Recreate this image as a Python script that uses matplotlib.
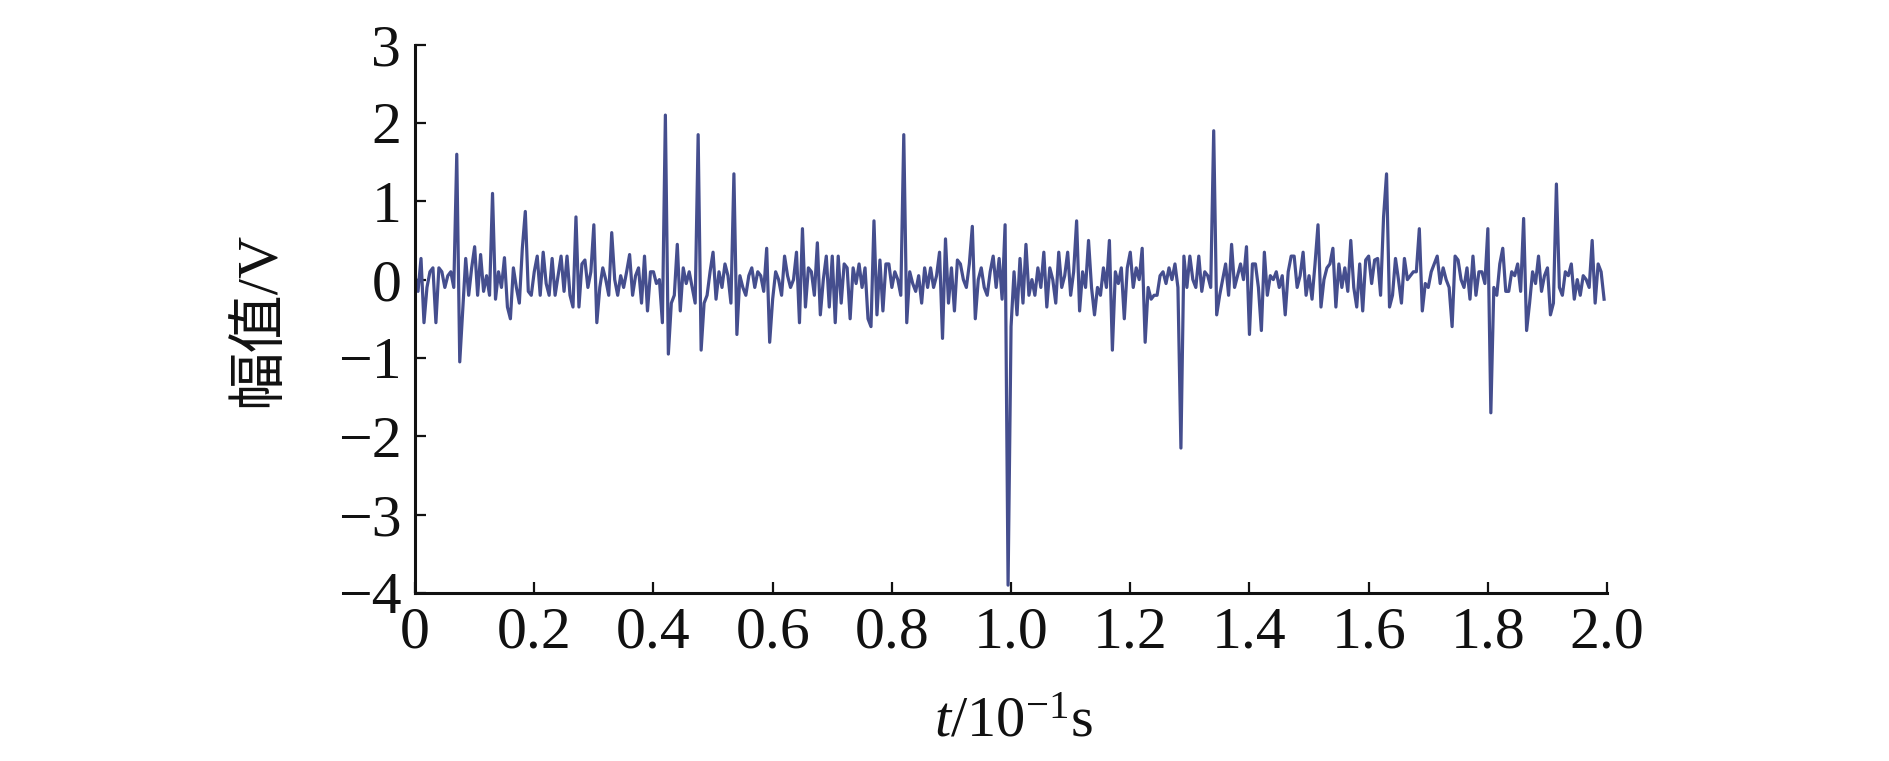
import numpy as np
import matplotlib
matplotlib.use('Agg')
import matplotlib.pyplot as plt

plt.rcParams['font.family'] = ['Liberation Serif', 'Noto Sans CJK SC']
plt.rcParams['mathtext.fontset'] = 'custom'
plt.rcParams['mathtext.rm'] = 'Liberation Serif'
plt.rcParams['mathtext.it'] = 'Liberation Serif:italic'

# 采样间隔 (10^-1 s)
dt = 0.005

# 幅值 (V), 每行 20 个采样点
amp = [
    0.05, -0.15, 0.27, -0.55, -0.1, 0.1, 0.15, -0.55, 0.15, 0.1, -0.1, 0.05, 0.1, -0.1, 1.6, -1.05, -0.4, 0.27, -0.2, 0.15,
    0.42, -0.2, 0.32, -0.15, 0.05, -0.2, 1.1, -0.25, 0.1, -0.1, 0.28, -0.35, -0.5, 0.15, -0.1, -0.3, 0.4, 0.87, -0.15, -0.2,
    0.1, 0.3, -0.2, 0.35, -0.05, -0.2, 0.27, -0.2, 0.05, 0.3, -0.15, 0.3, -0.2, -0.35, 0.8, -0.35, 0.2, 0.25, -0.1, 0.1,
    0.7, -0.55, -0.1, 0.15, 0.0, -0.2, 0.6, 0.0, -0.2, 0.05, -0.1, 0.1, 0.32, -0.2, 0.05, 0.15, -0.3, 0.3, -0.4, 0.1,
    0.1, -0.05, 0.0, -0.55, 2.1, -0.95, -0.3, -0.2, 0.45, -0.4, 0.15, -0.05, 0.1, -0.1, -0.3, 1.85, -0.9, -0.3, -0.2, 0.1,
    0.35, -0.25, 0.1, -0.1, 0.2, 0.05, -0.3, 1.35, -0.7, 0.05, -0.1, -0.2, 0.05, 0.15, -0.1, 0.1, 0.05, -0.15, 0.4, -0.8,
    -0.25, 0.1, 0.0, -0.2, 0.3, 0.05, -0.1, 0.0, 0.35, -0.55, 0.65, -0.35, 0.15, 0.1, -0.2, 0.47, -0.45, 0.0, 0.3, -0.35,
    0.3, -0.55, 0.3, -0.3, 0.2, 0.15, -0.5, 0.15, -0.05, 0.2, -0.1, 0.15, -0.5, -0.6, 0.75, -0.45, 0.25, -0.4, 0.2, 0.2,
    -0.1, 0.1, 0.0, -0.2, 1.85, -0.55, 0.1, -0.05, -0.15, 0.05, -0.3, 0.15, -0.1, 0.15, -0.1, 0.05, 0.35, -0.75, 0.52, -0.3,
    0.15, -0.4, 0.25, 0.2, 0.0, -0.1, 0.2, 0.68, -0.5, 0.0, 0.15, -0.1, -0.2, 0.1, 0.3, -0.1, 0.27, -0.25, 0.7, -3.9,
    -0.6, 0.1, -0.45, 0.27, -0.3, 0.45, -0.2, 0.0, -0.2, 0.15, -0.1, 0.35, -0.35, 0.15, 0.0, -0.3, 0.35, -0.1, 0.05, 0.35,
    -0.2, 0.1, 0.75, -0.4, 0.1, -0.1, 0.5, -0.1, -0.45, -0.1, -0.2, 0.15, -0.1, 0.5, -0.9, 0.1, -0.05, 0.15, -0.5, 0.15,
    0.35, -0.1, 0.15, 0.0, 0.4, -0.8, -0.1, -0.25, -0.2, -0.2, 0.05, 0.1, -0.05, 0.15, 0.0, 0.2, -0.1, -2.15, 0.3, -0.1,
    0.3, 0.0, -0.1, 0.3, -0.15, 0.1, 0.05, -0.1, 1.9, -0.45, -0.2, 0.0, 0.2, -0.2, 0.45, -0.1, 0.05, 0.2, 0.0, 0.42,
    -0.7, 0.2, 0.2, -0.1, -0.65, 0.35, -0.2, 0.05, 0.0, 0.1, -0.1, 0.05, -0.45, 0.1, 0.3, 0.3, -0.1, 0.05, 0.35, -0.2,
    0.05, -0.25, 0.2, 0.7, -0.35, 0.0, 0.15, 0.2, 0.4, -0.35, 0.2, -0.1, 0.15, -0.15, 0.5, -0.1, -0.35, 0.2, -0.4, 0.25,
    0.3, -0.05, 0.25, 0.27, -0.2, 0.8, 1.35, -0.35, -0.2, 0.27, 0.0, -0.3, 0.27, 0.0, 0.05, 0.1, 0.1, 0.65, -0.4, -0.05,
    -0.1, 0.1, 0.2, 0.3, -0.05, 0.15, 0.0, -0.1, -0.6, 0.3, 0.25, 0.0, -0.1, 0.15, -0.25, 0.3, -0.2, 0.1, 0.1, -0.05,
    0.65, -1.7, -0.1, -0.2, 0.2, 0.4, -0.15, -0.15, 0.1, 0.05, 0.2, -0.15, 0.78, -0.65, -0.3, 0.1, -0.05, 0.3, -0.15, 0.05,
    0.15, -0.45, -0.3, 1.22, -0.1, -0.2, 0.1, 0.05, 0.2, -0.25, 0.0, -0.2, 0.05, 0.0, -0.1, 0.5, -0.3, 0.2, 0.1, -0.25,
]
t = np.arange(len(amp)) * dt

xticks = [0, 0.2, 0.4, 0.6, 0.8, 1.0, 1.2, 1.4, 1.6, 1.8, 2.0]
xticklabels = ['0', '0.2', '0.4', '0.6', '0.8', '1.0', '1.2', '1.4', '1.6', '1.8', '2.0']
yticks = [-4, -3, -2, -1, 0, 1, 2, 3]

fig = plt.figure(figsize=(18.9, 7.61), dpi=100)
ax = fig.add_axes([0.2196, 0.2208, 0.6307, 0.7206])
ax.plot(t, amp, color='#454e8e', linewidth=2.3)

ax.set_xlim(0, 2.0)
ax.set_ylim(-4, 3)
ax.set_xticks(xticks)
ax.set_xticklabels(xticklabels)
ax.set_yticks(yticks)
ax.spines['top'].set_visible(False)
ax.spines['right'].set_visible(False)
for s in ['left', 'bottom']:
    ax.spines[s].set_linewidth(2.2)
    ax.spines[s].set_color('#111111')
ax.tick_params(direction='in', length=8, width=1.6, labelsize=43, pad=10, colors='#111111')

fig.text(0.536, 0.05, r'$t$/10$^{-1}$s', fontsize=42, ha='center', va='center', color='#111111')
fig.text(0.137, 0.58, '幅值/V', fontsize=42, rotation=90, ha='center', va='center', color='#111111')

fig.savefig('out.png', dpi=100)
